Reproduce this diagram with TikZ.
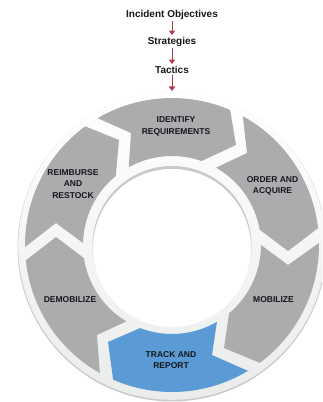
\documentclass[tikz,border=0pt]{standalone}
\usepackage{fontspec}
\setmainfont{Liberation Sans}
\definecolor{seg}{HTML}{ABACAE}
\definecolor{trk}{HTML}{5B9BD5}
\definecolor{ringc}{HTML}{F0F1F1}
\definecolor{ringd}{HTML}{C9CACC}
\definecolor{arr}{HTML}{B8394A}
\definecolor{ink}{HTML}{15171A}
\usetikzlibrary{arrows.meta}
\tikzset{
  title/.style={font=\bfseries\fontsize{10}{12}\selectfont,text=ink,inner sep=0pt},
  lab/.style={font=\bfseries\fontsize{8.5}{11.2}\selectfont,text=ink,align=center,inner sep=0pt},
  flow/.style={draw=arr,line width=1pt,-{Triangle[length=4.5pt,width=6pt]}}
}
% fill, outer start, outer end, mid vertex after outer arc, inner start, inner end, mid vertex after inner arc
\newcommand{\segm}[7]{\fill[#1] (#2:147) arc[start angle=#2,end angle=#3,radius=147] -- #4 -- (#5:89) arc[start angle=#5,end angle=#6,radius=89] -- #7 -- cycle;}
\begin{document}
\begin{tikzpicture}[x=1pt,y=1pt]
\useasboundingbox (0,0) rectangle (322,402);
\clip (0,0) rectangle (322,402);
% ring
\fill[ringd] (172,155) circle[radius=154.5];
\shade[top color=white,bottom color=ringc!85!ringd] (172,156) circle[radius=153.8];
\fill[ringd] (172,156.5) circle[radius=79.5];
\fill[white] (172,154) circle[radius=79];
\begin{scope}[shift={(172,157)}]
\segm{seg}{120.4}{66.7}{(64,100)}{70.6}{119.1}{(-41,112)}
\segm{seg}{61.2}{6.6}{(116,-6)}{9.9}{60.3}{(75,92)}
\segm{seg}{0.8}{-53.3}{(52,-103)}{-50.1}{0}{(116,-20)}
\segm{trk}{-58.9}{-113.6}{(-64,-97)}{-111}{-59.7}{(40,-110)}
\segm{seg}{-119.4}{-174}{(-116,8)}{-171.5}{-120.9}{(-75,-90)}
\segm{seg}{180.8}{126.2}{(-53,105)}{129.2}{178.7}{(-116,22)}
\end{scope}
% texts
\node[title] (obj) at (172,387) {Incident Objectives};
\node[title] (str) at (172,360.5) {Strategies};
\node[title] (tac) at (172,332.5) {Tactics};
\coordinate (ring) at (172,311);
\draw[flow] ([yshift=-1.5pt]obj.south) -- ([yshift=1.5pt]str.north);
\draw[flow] ([yshift=-2pt]str.south) -- ([yshift=1.5pt]tac.north);
\draw[flow] ([yshift=-2pt]tac.south) -- (ring);
\node[lab] (identify) at (176,275.5) {IDENTIFY\\REQUIREMENTS};
\node[lab] (order) at (272.5,216) {ORDER AND\\ACQUIRE};
\node[lab] (mob) at (273.5,102.5) {MOBILIZE};
\node[lab] (track) at (171,42) {TRACK AND\\REPORT};
\node[lab] (demob) at (70,102.5) {DEMOBILIZE};
\node[lab] (reimb) at (73,218) {REIMBURSE\\AND\\RESTOCK};
\end{tikzpicture}
\end{document}
